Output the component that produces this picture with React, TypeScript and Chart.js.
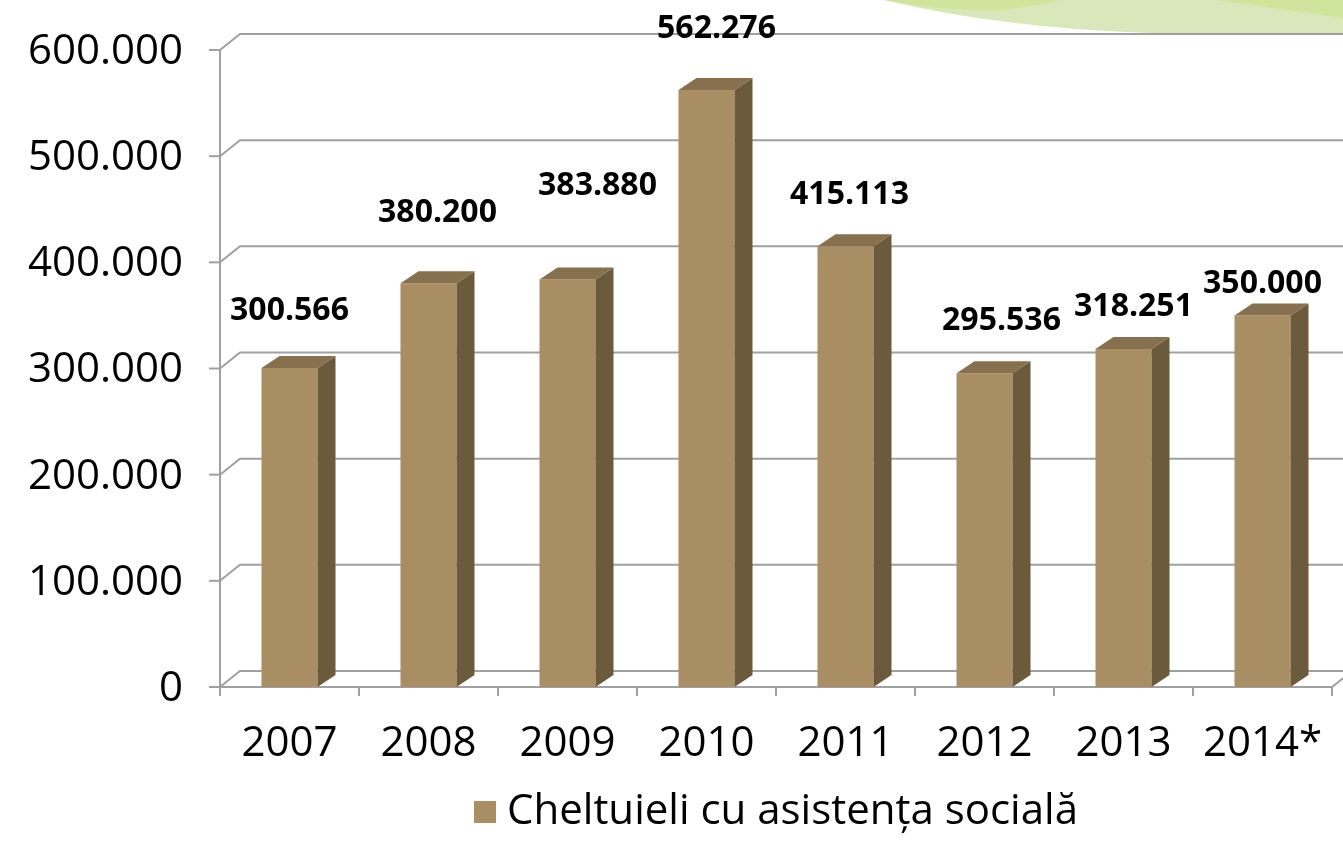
import React, { useEffect, useRef } from 'react';
import { Chart, registerables } from 'chart.js';

Chart.register(...registerables);

const categories = ['2007', '2008', '2009', '2010', '2011', '2012', '2013', '2014*'];
const values = [300566, 380200, 383880, 562276, 415113, 295536, 318251, 350000];
const seriesLabel = 'Cheltuieli cu asistența socială';
const yMin = 0;
const yMax = 600000;
const yStep = 100000;
// data label offsets (px) relative to each bar's top-centre
const labelOffsets = [
  [0, -57], [9, -70], [30, -94], [10, -61], [4, -51], [17, -52], [10, -42], [0, -32],
];

const FONT = "'Open Sans', 'Noto Sans', sans-serif";
const FRONT = '#a98e63';
const SIDE = '#6c5a3d';
const TOP = '#86704d';
const GRID = '#a0a0a0';
const WDX = 20, WDY = -16; // wall depth
const BDX = 18, BDY = -12; // bar depth

function fmt(n: number): string {
  return String(n).replace(/\B(?=(\d{3})+(?!\d))/g, '.');
}

const threeD = {
  id: 'threeD',
  beforeDraw(chart: any) {
    const { ctx, width } = chart;
    ctx.save();
    ctx.fillStyle = '#d9e8bb';
    ctx.beginPath();
    ctx.moveTo(884, 0);
    ctx.quadraticCurveTo(1000, 28, 1150, 33);
    ctx.lineTo(width, 33);
    ctx.lineTo(width, 0);
    ctx.closePath();
    ctx.fill();
    ctx.fillStyle = '#cfe59c';
    ctx.beginPath();
    ctx.moveTo(884, 0);
    ctx.quadraticCurveTo(950, 12, 1000, 10);
    ctx.quadraticCurveTo(1040, 6, 1060, 0);
    ctx.closePath();
    ctx.fill();
    ctx.beginPath();
    ctx.moveTo(1216, 0);
    ctx.quadraticCurveTo(1290, 10, width, 18);
    ctx.lineTo(width, 0);
    ctx.closePath();
    ctx.fill();
    ctx.restore();
  },
  beforeDatasetsDraw(chart: any) {
    const { ctx, chartArea, scales, width } = chart;
    const x = scales.x, y = scales.y;
    const L = chartArea.left, R = chartArea.right;
    const B = y.getPixelForValue(0);
    ctx.save();
    ctx.strokeStyle = GRID;
    ctx.lineWidth = 2;
    ctx.lineCap = 'butt';
    y.ticks.forEach((t: any) => {
      const py = y.getPixelForValue(t.value);
      ctx.beginPath();
      ctx.moveTo(L, py);
      ctx.lineTo(L + WDX, py + WDY);
      ctx.lineTo(width + 20, py + WDY);
      ctx.stroke();
      ctx.beginPath();
      ctx.moveTo(L - 11, py);
      ctx.lineTo(L, py);
      ctx.stroke();
    });
    ctx.beginPath();
    ctx.moveTo(L, B);
    ctx.lineTo(R, B);
    ctx.lineTo(R + WDX, B + WDY);
    ctx.stroke();
    ctx.beginPath();
    ctx.moveTo(L, y.getPixelForValue(yMax));
    ctx.lineTo(L, B + 9);
    ctx.stroke();
    const n = categories.length;
    const step = n > 1 ? x.getPixelForValue(1) - x.getPixelForValue(0) : R - L;
    for (let i = 0; i <= n; i++) {
      const px = x.getPixelForValue(0) - step / 2 + i * step;
      ctx.beginPath();
      ctx.moveTo(px, B);
      ctx.lineTo(px, B + 9);
      ctx.stroke();
    }
    ctx.restore();
  },
  afterDatasetsDraw(chart: any) {
    const { ctx, chartArea } = chart;
    const meta = chart.getDatasetMeta(0);
    ctx.save();
    meta.data.forEach((bar: any) => {
      const { x, y, base, width } = bar.getProps(['x', 'y', 'base', 'width'], true);
      const l = x - width / 2, r = x + width / 2;
      ctx.fillStyle = SIDE;
      ctx.beginPath();
      ctx.moveTo(r, y);
      ctx.lineTo(r + BDX, y + BDY);
      ctx.lineTo(r + BDX, base + BDY);
      ctx.lineTo(r, base);
      ctx.closePath();
      ctx.fill();
      ctx.fillStyle = TOP;
      ctx.beginPath();
      ctx.moveTo(l, y);
      ctx.lineTo(l + BDX, y + BDY);
      ctx.lineTo(r + BDX, y + BDY);
      ctx.lineTo(r, y);
      ctx.closePath();
      ctx.fill();
    });
    ctx.fillStyle = '#000';
    ctx.font = `bold 32px ${FONT}`;
    ctx.textAlign = 'center';
    ctx.textBaseline = 'middle';
    meta.data.forEach((bar: any, i: number) => {
      const { x, y } = bar.getProps(['x', 'y'], true);
      const off = labelOffsets[i] || [0, -40];
      ctx.fillText(fmt(values[i]), x + off[0], y + off[1]);
    });
    // legend
    const ds = chart.data.datasets[0];
    ctx.font = `42px ${FONT}`;
    const tw = ctx.measureText(ds.label).width;
    const box = 22, gap = 11;
    const total = box + gap + tw;
    const cx = (chartArea.left + chartArea.right) / 2;
    const lx = cx - total / 2;
    const ly = 812;
    ctx.fillStyle = ds.backgroundColor;
    ctx.fillRect(lx, ly - box / 2, box, box);
    ctx.fillStyle = '#000';
    ctx.textAlign = 'left';
    ctx.fillText(ds.label, lx + box + gap, ly);
    ctx.restore();
  },
};

export default function App() {
  const ref = useRef<HTMLCanvasElement | null>(null);
  useEffect(() => {
    if (!ref.current) return;
    const chart = new Chart(ref.current, {
      type: 'bar',
      data: {
        labels: categories,
        datasets: [
          {
            label: seriesLabel,
            data: values,
            backgroundColor: FRONT,
            borderWidth: 0,
            categoryPercentage: 1,
            barPercentage: 0.403,
          },
        ],
      },
      plugins: [threeD],
      options: {
        responsive: false,
        animation: false,
        layout: { padding: { left: 0, right: 11, top: 50, bottom: 0 } },
        scales: {
          x: {
            grid: { display: false, drawTicks: false },
            border: { display: false },
            ticks: { color: '#000', font: { family: FONT, size: 42 }, padding: 32, maxRotation: 0, autoSkip: false },
            afterFit(scale: any) {
              scale.height = 158;
              scale.paddingLeft = 0;
              scale.paddingRight = 0;
            },
          },
          y: {
            min: yMin,
            max: yMax,
            grid: { display: false, drawTicks: false },
            border: { display: false },
            ticks: {
              stepSize: yStep,
              color: '#000',
              font: { family: FONT, size: 42 },
              padding: 37,
              labelOffset: 2,
              callback: (v: any) => fmt(Number(v)),
            },
            afterFit(scale: any) {
              scale.width = 220;
              scale.paddingTop = 0;
              scale.paddingBottom = 0;
            },
          },
        },
        plugins: {
          legend: { display: false },
          tooltip: { enabled: false },
        },
      },
    });
    return () => chart.destroy();
  }, []);
  return (
    <div style={{ position: 'absolute', left: 0, top: 0, width: 1343, height: 845, background: '#fff' }}>
      <canvas ref={ref} width={1343} height={845} style={{ width: 1343, height: 845, display: 'block' }} />
    </div>
  );
}
